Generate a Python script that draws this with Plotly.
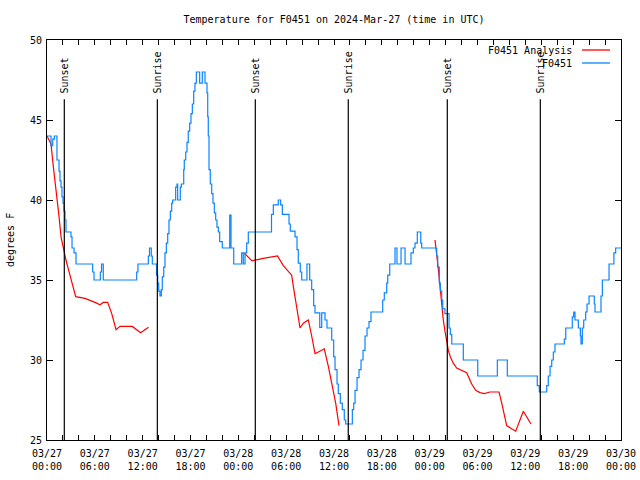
import pandas as pd
import plotly.graph_objects as go

START = pd.Timestamp("2024-03-27 00:00")

# Observed temperatures (F0451), hours since start
obs_hours = [0.00, 0.50, 0.72, 0.92, 1.25, 1.51, 1.63, 1.76, 1.88, 2.01, 2.13, 2.26, 2.38,
             3.01, 3.14, 3.39, 3.64, 5.73, 5.90, 6.69, 6.84, 7.06, 11.25, 11.41, 12.71,
             12.86, 13.08, 13.21, 13.74, 13.89, 14.01, 14.17, 14.34, 14.46, 14.64, 14.80,
             14.97, 15.14, 15.30, 15.47, 15.64, 15.77, 16.14, 16.31, 16.39, 16.72, 16.85,
             17.15, 17.22, 17.40, 17.56, 17.72, 17.90, 18.06, 18.23, 18.40, 18.56, 18.73,
             19.15, 19.48, 19.82, 20.07, 20.16, 20.23, 20.32, 20.48, 20.66, 20.82, 20.99,
             21.16, 21.32, 21.49, 21.66, 21.99, 22.92, 23.08, 23.42, 24.42, 24.62, 24.84,
             25.05, 25.25, 28.16, 28.39, 29.01, 29.31, 29.52, 30.36, 30.52, 31.11, 31.36,
             31.52, 31.77, 31.95, 32.61, 32.95, 33.20, 33.45, 33.62, 34.21, 34.46, 34.87,
             35.12, 35.71, 35.96, 36.13, 36.38, 36.54, 36.79, 37.04, 37.29, 37.47, 38.30,
             38.47, 38.64, 38.89, 39.14, 39.39, 39.64, 39.89, 40.14, 40.39, 40.64, 42.11,
             42.31, 42.61, 42.74, 42.99, 43.65, 43.90, 44.41, 44.91, 45.66, 45.95, 46.16,
             46.45, 46.88, 47.00, 48.88, 49.01, 49.21, 49.34, 49.51, 49.64, 49.92, 50.43,
             50.59, 50.77, 52.22, 54.03, 56.49, 57.74, 61.50, 61.75, 62.68, 62.88, 63.10,
             63.31, 63.51, 63.72, 64.89, 65.07, 65.89, 66.07, 66.23, 66.65, 66.90, 66.98,
             67.15, 67.32, 67.57, 67.74, 67.99, 68.65, 68.74, 69.49, 69.66, 70.50, 71.11,
             71.33, 72.00]
obs_temp = [44.0, 43.4, 43.8, 44.0, 42.5, 41.8, 41.2, 40.8, 40.2, 39.8, 39.3, 38.75, 38.0,
            37.7, 37.0, 36.7, 36.0, 35.5, 35.0, 35.5, 36.0, 35.0, 35.5, 36.0, 36.5,
            37.0, 36.5, 36.0, 35.3, 34.8, 34.3, 34.0, 34.4, 35.2, 35.8, 36.7,
            37.3, 37.9, 38.75, 39.3, 39.8, 40.0, 40.8, 41.0, 40.0, 40.8, 41.0,
            41.9, 42.5, 43.0, 43.6, 44.3, 44.8, 45.4, 46.0, 46.8, 47.3, 48.0,
            47.3, 48.0, 47.3, 46.7, 45.2, 44.0, 41.9, 41.0, 40.4, 39.8, 39.2,
            38.75, 38.3, 38.0, 37.4, 37.0, 39.06, 37.0, 36.0, 36.7, 36.0, 36.7,
            37.3, 38.0, 39.1, 39.7, 40.0, 39.7, 39.1, 38.5, 38.06, 37.7, 36.9,
            36.05, 35.5, 35.0, 36.0, 35.0, 34.4, 33.4, 32.95, 32.04, 32.95, 32.5,
            32.0, 31.25, 30.2, 29.4, 28.5, 27.9, 27.3, 26.9, 26.25, 26.0, 26.9,
            27.3, 28.1, 28.9, 29.4, 30.0, 30.6, 31.5, 32.0, 32.4, 33.0, 33.75,
            34.2, 34.8, 35.3, 36.0, 37.0, 36.0, 37.0, 36.0, 36.7, 37.0, 37.3,
            38.0, 37.3, 37.0, 36.5, 35.8, 34.8, 34.3, 33.75, 33.2, 32.9, 32.0,
            31.6, 31.0, 30.0, 29.0, 30.0, 29.0, 28.4, 28.0, 28.4, 29.0, 29.6,
            30.0, 30.5, 31.0, 31.3, 32.0, 32.7, 33.0, 32.5, 32.0, 31.5, 31.0,
            32.0, 32.5, 33.0, 33.5, 34.0, 33.5, 33.0, 34.0, 35.0, 36.0, 36.7,
            37.0, 37.0]

# Analysis temperatures (F0451 Analysis); None marks gaps
ana_hours = [0.00, 0.50, 0.79, 1.00, 1.25, 1.51, 1.76, 1.92, 2.13, 2.38, 2.67, 3.01, 3.30,
             3.60, 4.77, 5.39, 6.02, 6.65, 7.06, 7.61, 8.12, 8.66, 9.16, 10.70, 11.25,
             11.75, 12.73, None,
             24.71, 25.71, 27.13, 28.60, 28.91, 29.64, 30.27, 30.69, 30.90, 31.32, 31.74,
             32.15, 32.78, 33.20, 33.62, 34.03, 34.78, 35.29, 35.71, 36.21, 36.63, None,
             48.67, 48.88, 49.08, 49.30, 49.51, 49.71, 49.92, 50.14, 50.34, 50.59, 50.96,
             51.39, 52.02, 52.64, 53.27, 53.77, 54.31, 54.85, 55.57, 56.70, 57.04, 57.66,
             58.29, 58.79, 59.75, 60.25, 60.71]
ana_temp = [44.0, 43.5, 42.1, 41.25, 40.2, 38.96, 37.7, 37.3, 36.7, 36.25, 35.7, 35.1, 34.6,
            33.96, 33.85, 33.75, 33.6, 33.45, 33.6, 33.6, 32.9, 31.9, 32.1, 32.1, 31.9,
            31.7, 32.05, None,
            36.7, 36.2, 36.35, 36.5, 36.5, 35.9, 35.5, 35.3, 34.6, 33.3, 32.0,
            32.3, 32.5, 31.5, 30.4, 30.5, 30.7, 29.6, 28.6, 27.3, 25.9, None,
            37.5, 36.7, 35.7, 34.6, 33.3, 32.5, 31.8, 31.1, 30.6, 30.2, 29.8,
            29.5, 29.35, 29.2, 28.5, 28.1, 27.96, 27.9, 28.0, 28.0, 27.3, 25.9,
            25.7, 25.55, 26.8, 26.4, 26.0]

sun_hours = [2.17, 13.84, 26.13, 37.79, 50.21, 61.88]
sun_labels = ["Sunset", "Sunrise", "Sunset", "Sunrise", "Sunset", "Sunrise"]

y_ticks = [25, 30, 35, 40, 45, 50]


def to_time(hours):
    return [None if h is None else START + pd.Timedelta(hours=h) for h in hours]


FONT = "DejaVu Sans Mono"
RED = "#ff0000"
BLUE = "#0a84ff"

fig = go.Figure()
fig.add_trace(go.Scatter(x=to_time(ana_hours), y=ana_temp, mode="lines",
                         line=dict(color=RED, width=1.2), name="F0451 Analysis",
                         connectgaps=False, showlegend=False))
fig.add_trace(go.Scatter(x=to_time(obs_hours), y=obs_temp, mode="lines",
                         line=dict(color=BLUE, width=1.2, shape="hv"), name="F0451",
                         showlegend=False))

for h, lab in zip(sun_hours, sun_labels):
    t = START + pd.Timedelta(hours=h)
    fig.add_shape(type="line", xref="x", yref="y", x0=t, x1=t, y0=25, y1=46.3,
                  line=dict(color="black", width=1.2))
    fig.add_annotation(x=t, y=46.55, xref="x", yref="y", text=lab, textangle=-90,
                       showarrow=False, xanchor="center", yanchor="bottom",
                       font=dict(family=FONT, size=10, color="black"))

# legend (gnuplot style: text right, sample line on the right)
legend_items = [("F0451 Analysis", RED), ("F0451", BLUE)]
for i, (name, col) in enumerate(legend_items):
    yp = 1 - (10 + 13 * i) / 400
    fig.add_annotation(x=(574 - 47) / 574, y=yp, xref="paper", yref="paper", text=name,
                       showarrow=False, xanchor="right", yanchor="middle",
                       font=dict(family=FONT, size=10, color="black"))
    fig.add_shape(type="line", xref="paper", yref="paper",
                  x0=(582 - 47) / 574, x1=(610 - 47) / 574, y0=yp, y1=yp,
                  line=dict(color=col, width=1.3))

fig.add_annotation(x=-37 / 574, y=0.5, xref="paper", yref="paper", text="degrees F",
                   textangle=-90, showarrow=False, xanchor="center", yanchor="middle",
                   font=dict(family=FONT, size=10, color="black"))

fig.update_layout(
    width=640, height=480,
    margin=dict(l=47, r=19, t=40, b=40, autoexpand=False),
    paper_bgcolor="white", plot_bgcolor="white",
    title=dict(text="Temperature for F0451 on 2024-Mar-27 (time in UTC)",
               x=0.5, xref="paper", y=1 - 19 / 480, yanchor="middle",
               font=dict(family=FONT, size=10, color="black")),
    font=dict(family=FONT, size=10, color="black"),
    showlegend=False,
)
fig.update_xaxes(
    type="date", automargin=False,
    range=[START, START + pd.Timedelta(hours=72)],
    dtick=6 * 3600 * 1000, tick0=START,
    tickformat="%m/%d<br>%H:%M",
    ticks="inside", ticklen=5, tickcolor="black", tickwidth=1,
    ticklabelstandoff=4,
    minor=dict(dtick=2 * 3600 * 1000, ticks="inside", ticklen=5, tickcolor="black"),
    showline=True, linecolor="black", linewidth=1, mirror="ticks",
    showgrid=False, zeroline=False,
    tickfont=dict(family=FONT, size=10, color="black"),
)
fig.update_yaxes(
    automargin=False,
    range=[25, 50], tickvals=y_ticks,
    ticks="inside", ticklen=6, tickcolor="black", tickwidth=1,
    ticklabelstandoff=2,
    showline=True, linecolor="black", linewidth=1, mirror="ticks",
    showgrid=False, zeroline=False,
    tickfont=dict(family=FONT, size=10, color="black"),
)

fig.write_html("out.html", config={"displayModeBar": False},
               post_script="document.body.style.margin='0';")
